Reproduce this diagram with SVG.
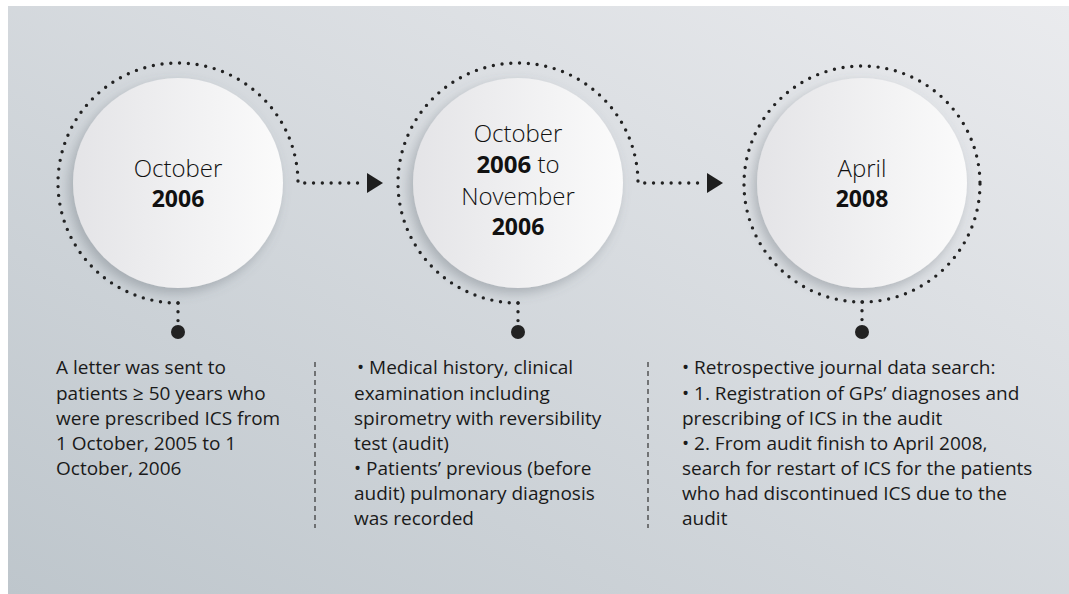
<svg xmlns="http://www.w3.org/2000/svg" width="1069" height="594" viewBox="0 0 1069 594">
  <defs>
    <linearGradient id="bg" x1="0" y1="1" x2="1" y2="0">
      <stop offset="0" stop-color="#bec6cc"/>
      <stop offset="1" stop-color="#eaebee"/>
    </linearGradient>
    <linearGradient id="disc" x1="0" y1="0" x2="1" y2="0">
      <stop offset="0" stop-color="#e4e4e7"/>
      <stop offset="1" stop-color="#fbfbfb"/>
    </linearGradient>
    <filter id="shadow" x="-30%" y="-30%" width="160%" height="160%">
      <feDropShadow dx="-4" dy="5" stdDeviation="6" flood-color="#5a636b" flood-opacity="0.35"/>
    </filter>
  </defs>
  <style>
    .dot { fill: none; stroke: #222; stroke-width: 3.4; stroke-linecap: round; stroke-dasharray: 0 8.8; }
    .dash { fill: none; stroke: #333; stroke-width: 1.2; stroke-dasharray: 5 4; }
    .disc { fill: url(#disc); filter: url(#shadow); }
    .pin { fill: #222; }
    .arrow { fill: #1e1e1e; }
    .lt { font-family: "Open Sans", "Liberation Sans", sans-serif; font-weight: 300; font-size: 24px; fill: #111; text-anchor: middle; }
    .bd { font-family: "Open Sans", "Liberation Sans", sans-serif; font-weight: 700; font-size: 23px; fill: #111; text-anchor: middle; }
    .body { font-family: "Open Sans", "Liberation Sans", sans-serif; font-size: 19px; fill: #1a1a1a; }
  </style>

  <rect x="8" y="6" width="1061" height="588" fill="url(#bg)"/>

  <g id="connectors">
    <path class="dot" d="M178 303 A120 120 0 1 1 298 183 L362 183"/>
    <path class="arrow" d="M367 173 L383 183 L367 193 Z"/>
    <path class="dot" d="M178 303 L178 324"/>
    <circle class="pin" cx="178" cy="332" r="7"/>

    <path class="dot" d="M518 303 A120 120 0 1 1 638 183 L702 183"/>
    <path class="arrow" d="M707 173 L723 183 L707 193 Z"/>
    <path class="dot" d="M518 303 L518 324"/>
    <circle class="pin" cx="518" cy="332" r="7"/>

    <circle class="dot" cx="862" cy="184" r="118"/>
    <path class="dot" d="M862 302 L862 324"/>
    <circle class="pin" cx="862" cy="332" r="7"/>

    <line class="dash" x1="315" y1="362" x2="315" y2="528"/>
    <line class="dash" x1="648" y1="362" x2="648" y2="528"/>
  </g>

  <g id="node1">
    <circle class="disc" cx="178" cy="183" r="105"/>
    <text class="lt" x="178" y="177">October</text>
    <text class="bd" x="178" y="207">2006</text>
  </g>

  <g id="node2">
    <circle class="disc" cx="518" cy="183" r="105"/>
    <text class="lt" x="518" y="142">October</text>
    <text class="lt" x="518" y="173"><tspan font-weight="700">2006</tspan> to</text>
    <text class="lt" x="518" y="205">November</text>
    <text class="bd" x="518" y="235">2006</text>
  </g>

  <g id="node3">
    <circle class="disc" cx="862" cy="183" r="105"/>
    <text class="lt" x="862" y="177">April</text>
    <text class="bd" x="862" y="207">2008</text>
  </g>

  <g id="text1">
    <text class="body" x="56" y="374">A letter was sent to</text>
    <text class="body" x="56" y="400">patients ≥ 50 years who</text>
    <text class="body" x="56" y="425">were prescribed ICS from</text>
    <text class="body" x="56" y="450">1 October, 2005 to 1</text>
    <text class="body" x="56" y="475">October, 2006</text>
  </g>

  <g id="text2">
    <text class="body" x="357" y="374">• Medical history, clinical</text>
    <text class="body" x="354" y="400">examination including</text>
    <text class="body" x="354" y="425">spirometry with reversibility</text>
    <text class="body" x="354" y="450">test (audit)</text>
    <text class="body" x="354" y="475">• Patients’ previous (before</text>
    <text class="body" x="354" y="500">audit) pulmonary diagnosis</text>
    <text class="body" x="354" y="525">was recorded</text>
  </g>

  <g id="text3">
    <text class="body" x="682" y="374">• Retrospective journal data search:</text>
    <text class="body" x="682" y="400">• 1. Registration of GPs’ diagnoses and</text>
    <text class="body" x="682" y="425">prescribing of ICS in the audit</text>
    <text class="body" x="682" y="450">• 2. From audit finish to April 2008,</text>
    <text class="body" x="682" y="475">search for restart of ICS for the patients</text>
    <text class="body" x="682" y="500">who had discontinued ICS due to the</text>
    <text class="body" x="682" y="525">audit</text>
  </g>
</svg>
